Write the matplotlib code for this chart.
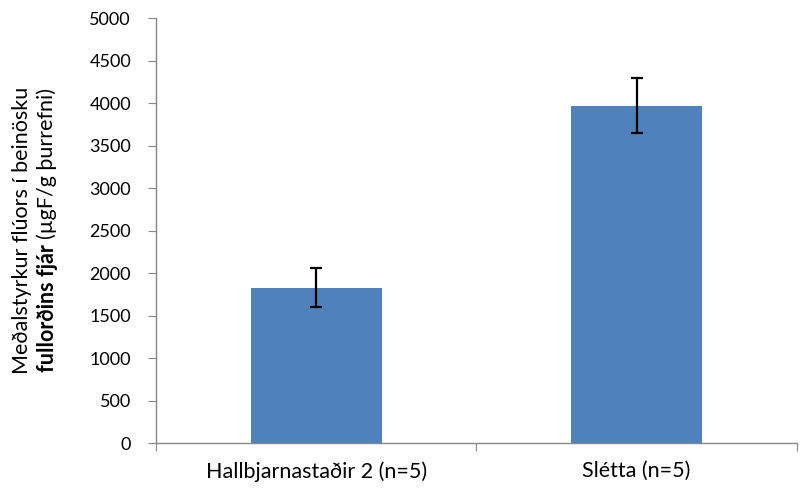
import numpy as np
import matplotlib
matplotlib.use("Agg")
import matplotlib.pyplot as plt

categories = ["Hallbjarnastaðir 2 (n=5)", "Slétta (n=5)"]
means = [1825, 3965]
err_low = [225, 320]
err_high = [235, 325]
yticks = list(range(0, 5001, 500))

plt.rcParams['font.family'] = ['Lato', 'DejaVu Sans']
FS_TICK = 13
FS = 15.5

fig = plt.figure(figsize=(8, 4.88), dpi=100)
ax = fig.add_axes([0.195, 0.0922, 0.801, 0.8708])

x = np.arange(len(categories))
ax.bar(x, means, width=0.41, color='#4F81BD', zorder=2)
ax.errorbar(x, means, yerr=[err_low, err_high], fmt='none', ecolor='black',
            elinewidth=1.6, capsize=4.3, capthick=1.6, zorder=3)

ax.set_xlim(-0.5, len(categories) - 0.5)
ax.set_ylim(0, 5000)
ax.set_yticks(yticks)
ax.set_yticklabels([str(v) for v in yticks], fontsize=FS_TICK)

# category boundaries as ticks, labels centered under bars
ax.set_xticks(np.arange(-0.5, len(categories), 1.0))
ax.set_xticklabels([])
ax.set_xticks(x, minor=True)
ax.set_xticklabels(categories, minor=True, fontsize=FS)
ax.tick_params(axis='x', which='minor', length=0, pad=13)
ax.tick_params(axis='x', which='major', length=6, color='#868686', direction='out')
ax.tick_params(axis='y', length=6, color='#868686', direction='out', pad=12)

for s in ['top', 'right']:
    ax.spines[s].set_visible(False)
for s in ['left', 'bottom']:
    ax.spines[s].set_color('#868686')
    ax.spines[s].set_linewidth(1.0)

# y label, two lines, second line partly bold
yc = 0.5288
fig.text(0.028, yc, "Meðalstyrkur flúors í beinösku", rotation=90,
         ha='center', va='center', fontsize=FS)
fig.canvas.draw()
r = fig.canvas.get_renderer()
tb = fig.text(0.059, 0, "fullorðins fjár ", rotation=90, ha='center',
              va='bottom', fontsize=FS, weight='bold')
tn = fig.text(0.059, 0, "(µgF/g þurrefni)", rotation=90, ha='center',
              va='bottom', fontsize=FS)
hb = tb.get_window_extent(r).height / fig.bbox.height
hn = tn.get_window_extent(r).height / fig.bbox.height
y0 = yc - (hb + hn) / 2
tb.set_y(y0)
tn.set_y(y0 + hb)

fig.savefig("out.png", dpi=100)
